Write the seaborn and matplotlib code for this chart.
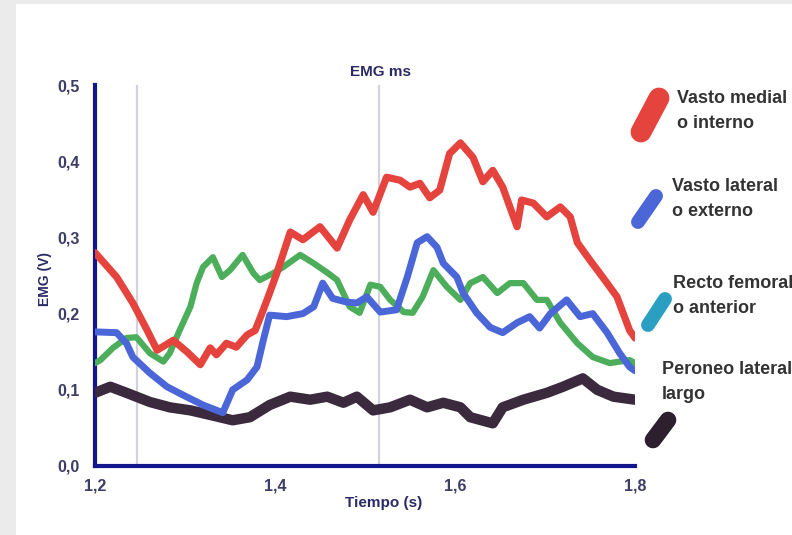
import matplotlib
matplotlib.use("Agg")
import matplotlib.pyplot as plt
from matplotlib.lines import Line2D
from matplotlib.patches import Rectangle
import pandas as pd
import seaborn as sns

# datos (tiempo en s, EMG en V)
red_x = [1.200, 1.224, 1.242, 1.258, 1.269, 1.287, 1.302, 1.317, 1.328, 1.335, 1.346, 1.357,
         1.369, 1.378, 1.387, 1.394, 1.402, 1.417, 1.431, 1.450, 1.469, 1.483, 1.498, 1.509,
         1.524, 1.539, 1.550, 1.561, 1.572, 1.583, 1.594, 1.606, 1.620, 1.631, 1.642, 1.653,
         1.669, 1.674, 1.687, 1.702, 1.717, 1.728, 1.736, 1.750, 1.764, 1.780, 1.794, 1.800]
red_y = [0.280, 0.248, 0.214, 0.178, 0.152, 0.165, 0.150, 0.133, 0.155, 0.146, 0.161, 0.156,
         0.172, 0.178, 0.205, 0.227, 0.253, 0.307, 0.297, 0.314, 0.286, 0.323, 0.356, 0.333,
         0.379, 0.375, 0.366, 0.371, 0.352, 0.362, 0.410, 0.424, 0.405, 0.373, 0.388, 0.366,
         0.314, 0.349, 0.345, 0.327, 0.340, 0.327, 0.293, 0.270, 0.248, 0.222, 0.178, 0.168]

blue_x = [1.200, 1.224, 1.235, 1.242, 1.261, 1.280, 1.298, 1.320, 1.342, 1.353, 1.369, 1.380,
          1.387, 1.394, 1.413, 1.431, 1.443, 1.453, 1.464, 1.480, 1.491, 1.502, 1.517, 1.535,
          1.547, 1.558, 1.569, 1.580, 1.587, 1.602, 1.609, 1.624, 1.639, 1.653, 1.669, 1.683,
          1.694, 1.706, 1.724, 1.739, 1.753, 1.769, 1.783, 1.794, 1.800]
blue_y = [0.176, 0.175, 0.161, 0.143, 0.122, 0.104, 0.093, 0.080, 0.070, 0.100, 0.113, 0.130,
          0.165, 0.198, 0.196, 0.200, 0.209, 0.240, 0.220, 0.215, 0.214, 0.222, 0.202, 0.205,
          0.248, 0.293, 0.301, 0.287, 0.266, 0.248, 0.227, 0.201, 0.182, 0.175, 0.188, 0.196,
          0.181, 0.200, 0.218, 0.196, 0.200, 0.175, 0.148, 0.130, 0.125]

green_x = [1.200, 1.206, 1.220, 1.235, 1.246, 1.261, 1.276, 1.283, 1.294, 1.306, 1.313, 1.320,
           1.331, 1.341, 1.350, 1.364, 1.376, 1.383, 1.398, 1.409, 1.428, 1.443, 1.459, 1.469,
           1.483, 1.494, 1.506, 1.517, 1.528, 1.543, 1.553, 1.564, 1.576, 1.591, 1.606, 1.617,
           1.631, 1.647, 1.661, 1.676, 1.691, 1.702, 1.717, 1.736, 1.753, 1.772, 1.794, 1.800]
green_y = [0.135, 0.139, 0.155, 0.168, 0.169, 0.148, 0.137, 0.148, 0.178, 0.209, 0.240, 0.261,
           0.274, 0.248, 0.257, 0.277, 0.253, 0.244, 0.253, 0.261, 0.277, 0.266, 0.253, 0.244,
           0.209, 0.201, 0.238, 0.235, 0.218, 0.202, 0.201, 0.222, 0.257, 0.235, 0.218, 0.240,
           0.248, 0.227, 0.240, 0.240, 0.218, 0.218, 0.188, 0.161, 0.143, 0.135, 0.139, 0.135]

dark_x = [1.200, 1.217, 1.235, 1.261, 1.283, 1.306, 1.328, 1.353, 1.372, 1.394, 1.417, 1.439,
          1.458, 1.476, 1.491, 1.509, 1.528, 1.550, 1.569, 1.587, 1.606, 1.617, 1.642, 1.653,
          1.676, 1.702, 1.720, 1.742, 1.758, 1.776, 1.800]
dark_y = [0.096, 0.104, 0.096, 0.084, 0.077, 0.073, 0.067, 0.060, 0.064, 0.080, 0.091, 0.087,
          0.091, 0.083, 0.091, 0.073, 0.077, 0.087, 0.077, 0.083, 0.077, 0.064, 0.056, 0.077,
          0.087, 0.096, 0.104, 0.115, 0.100, 0.091, 0.087]

x_ticks = [1.2, 1.4, 1.6, 1.8]
y_ticks = [0.0, 0.1, 0.2, 0.3, 0.4, 0.5]
marcas_v = [1.247, 1.515]

musculos = [
    ("Peroneo lateral\nlargo", dark_x, dark_y, "#3b2a3d", 7.5),
    ("Recto femoral\no anterior", green_x, green_y, "#4cae5a", 4.5),
    ("Vasto lateral\no externo", blue_x, blue_y, "#4b66d6", 5.0),
    ("Vasto medial\no interno", red_x, red_y, "#e5443e", 5.2),
]

sns.set_style("white")
plt.rcParams["font.family"] = ["Liberation Sans", "DejaVu Sans"]
plt.rcParams["font.weight"] = "bold"

fig = plt.figure(figsize=(7.92, 5.35), dpi=100, facecolor="#ebebeb")
fig.add_artist(Rectangle((16 / 792, 0), 1, 1 - 4 / 535, transform=fig.transFigure,
                         facecolor="white", edgecolor="none", zorder=0))
ax = fig.add_axes([95 / 792, 69 / 535, 540 / 792, 381 / 535])
ax.set_facecolor("white")

for xv in marcas_v:
    ax.axvline(xv, color="#d2d2de", lw=1.6, zorder=1)

for nombre, xs, ys, color, lw in musculos:
    df = pd.DataFrame({"tiempo": xs, "emg": ys})
    sns.lineplot(data=df, x="tiempo", y="emg", ax=ax, color=color, linewidth=lw,
                 sort=False, estimator=None, solid_capstyle="round", solid_joinstyle="round",
                 zorder=3)

ax.set_xlim(1.2, 1.8)
ax.set_ylim(0, 0.5)
sns.despine(ax=ax)
for lado in ["left", "bottom"]:
    ax.spines[lado].set_color("#14148c")
    ax.spines[lado].set_linewidth(3)

ax.set_xticks(x_ticks)
ax.set_xticklabels([f"{v:.1f}".replace(".", ",") for v in x_ticks])
ax.set_yticks(y_ticks)
ax.set_yticklabels([f"{v:.1f}".replace(".", ",") for v in y_ticks])
ax.tick_params(axis="y", direction="inout", length=10, width=1, color="#b4b4c4",
               labelsize=11.5, labelcolor="#3d3d66", pad=6)
ax.tick_params(axis="x", direction="in", length=6, width=1, color="#b4b4c4",
               labelsize=11.5, labelcolor="#3d3d66", pad=9)
for lab in ax.get_xticklabels() + ax.get_yticklabels():
    lab.set_fontweight("bold")

ax.set_xlabel("Tiempo (s)", fontsize=11, fontweight="bold", color="#2a2a66")
ax.xaxis.set_label_coords(0.535, -0.08)
ax.set_ylabel("EMG (V)", fontsize=10, fontweight="bold", color="#2a2a66")
ax.yaxis.set_label_coords(-0.08, 0.49)
ax.text(0.528, 1.034, "EMG ms", transform=ax.transAxes, ha="center", va="center",
        fontsize=11, fontweight="bold", color="#2a2a66")

# leyenda a mano, como en el original
leyenda = [
    ("Vasto medial\no interno", 677, 111, "#e5443e", (641, 132, 659, 98), 15),
    ("Vasto lateral\no externo", 672, 199, "#4b66d6", (638, 222, 656, 196), 10),
    ("Recto femoral\no anterior", 673, 296, "#2b9fc2", (648, 325, 665, 299), 10),
    ("Peroneo lateral\nlargo", 662, 382, "#2e1f2e", (653, 440, 668, 420), 12),
]
for texto, tx, ty, color, (x0, y0, x1, y1), grosor in leyenda:
    fig.text(tx / 792, 1 - ty / 535, texto, ha="left", va="center", fontsize=13,
             fontweight="bold", color="#333333", linespacing=1.65)
    fig.add_artist(Line2D([x0 / 792, x1 / 792], [1 - y0 / 535, 1 - y1 / 535],
                          transform=fig.transFigure, color=color, lw=grosor,
                          solid_capstyle="round"))

fig.savefig("out.png", dpi=100, facecolor=fig.get_facecolor())
